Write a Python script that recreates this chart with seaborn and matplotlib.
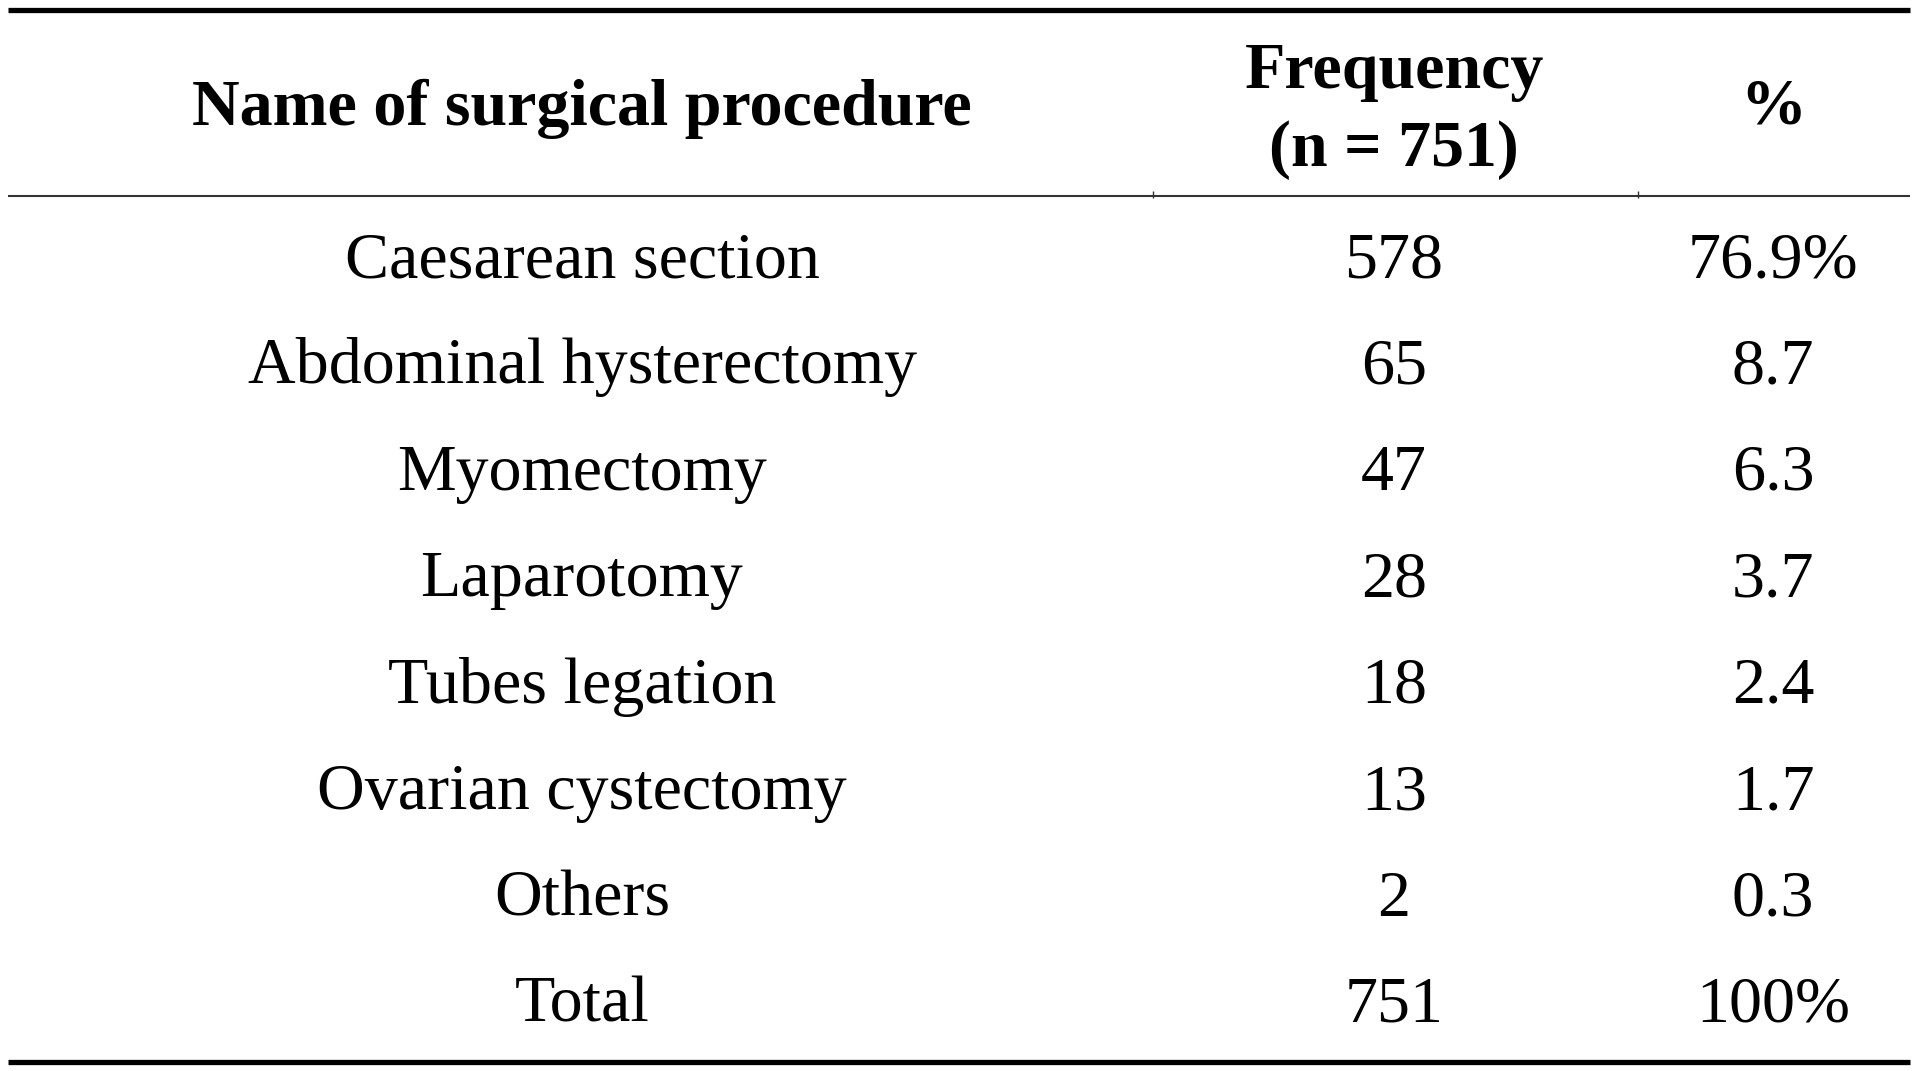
import matplotlib
matplotlib.use("Agg")
import matplotlib.pyplot as plt
import pandas as pd
import seaborn as sns

# table data
procedures = ["Caesarean section", "Abdominal hysterectomy", "Myomectomy", "Laparotomy",
              "Tubes legation", "Ovarian cystectomy", "Others", "Total"]
frequency = ["578", "65", "47", "28", "18", "13", "2", "751"]
percent = ["76.9%", "8.7", "6.3", "3.7", "2.4", "1.7", "0.3", "100%"]
header = ["Name of surgical procedure", "Frequency\n(n = 751)", "%"]

df = pd.DataFrame({"name": procedures, "freq": frequency, "pct": percent})

sns.set_theme(style="white")
plt.rcParams["font.family"] = ["Liberation Serif", "DejaVu Serif"]
plt.rcParams["text.color"] = "black"

W, H = 1914, 1071
fig = plt.figure(figsize=(W / 100, H / 100), dpi=100)
ax = fig.add_axes([0, 0, 1, 1])
ax.set_xlim(0, W)
ax.set_ylim(H, 0)
ax.axis("off")

col_x = [582, 1394, 1773]
fs = 47.5
first_base, last_base = 277, 1022
step = (last_base - first_base) / (len(df) - 1)

# header
ax.text(col_x[0], 125, header[0], ha="center", va="baseline", fontsize=fs, fontweight="bold")
ax.text(col_x[1], 88, header[1].split("\n")[0], ha="center", va="baseline", fontsize=fs, fontweight="bold")
ax.text(col_x[1], 166, header[1].split("\n")[1], ha="center", va="baseline", fontsize=fs, fontweight="bold")
ax.text(col_x[2], 123, header[2], ha="center", va="baseline", fontsize=fs, fontweight="bold")

# body
for i, row in df.iterrows():
    y = first_base + i * step
    for x, val in zip(col_x, [row["name"], row["freq"], row["pct"]]):
        ax.text(x, y, val, ha="center", va="baseline", fontsize=fs)

# rules
ax.hlines(10, 8, 1910, color="black", lw=3.8)
ax.hlines(196, 8, 1910, color="#333333", lw=1.5)
ax.vlines([1153, 1638], 191, 198, color="#333333", lw=1)
ax.hlines(1062, 8, 1910, color="black", lw=3.8)

fig.savefig("out.png", dpi=100)
